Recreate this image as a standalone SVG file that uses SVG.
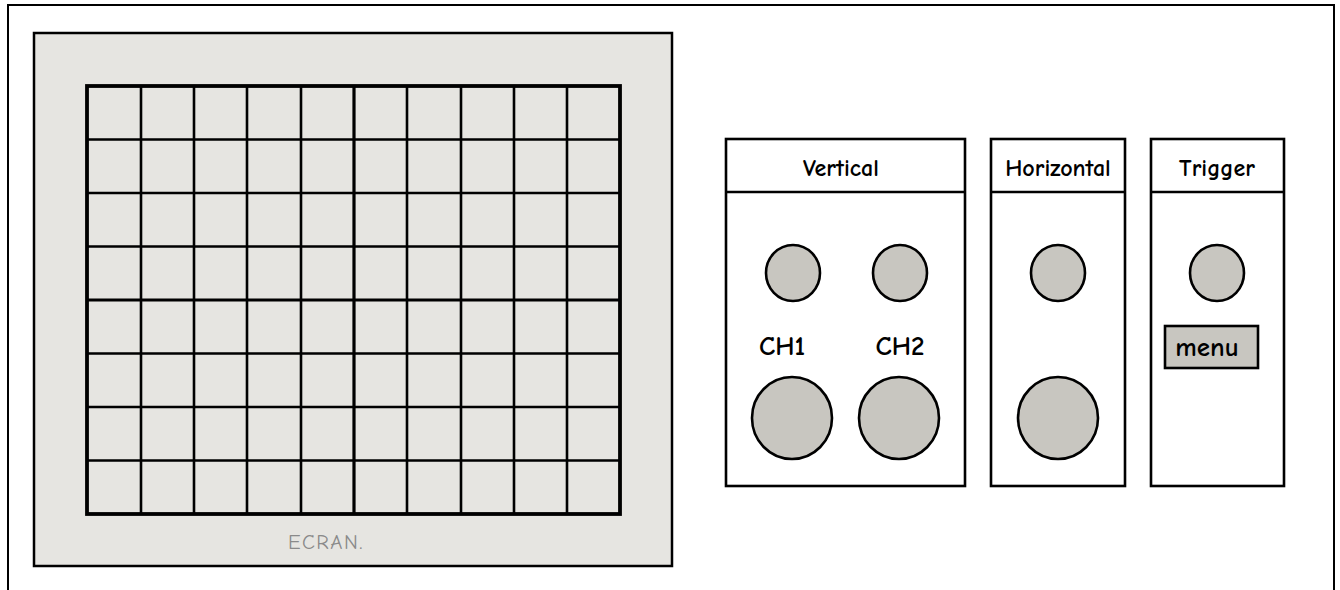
<svg xmlns="http://www.w3.org/2000/svg" width="1340" height="590" viewBox="0 0 1340 590">
<style>
.frame{fill:#ffffff;stroke:#000;stroke-width:2}
.screen{fill:#e6e5e1;stroke:#000;stroke-width:2.5}
.g{stroke:#000;stroke-width:2.6;fill:none}
.gm{stroke:#000;stroke-width:3.2;fill:none}
.gb{stroke:#000;stroke-width:3.8;fill:none}
.panel{fill:#fff;stroke:#000;stroke-width:2.6}
.knob{fill:#c8c6c0;stroke:#000;stroke-width:2.6}
.t{font-family:"Comic Neue","Noto Sans","Liberation Sans",sans-serif;font-size:24px;font-weight:bold;fill:#000;text-anchor:middle}
.h{font-family:"Comic Neue","Liberation Sans",sans-serif;font-size:27px;font-weight:bold;fill:#000;text-anchor:middle}
.ec{font-family:"Comic Neue","Liberation Sans",sans-serif;font-size:21px;fill:#8a8a8a;text-anchor:middle;letter-spacing:1.5px}
</style>
<rect x="8" y="5" width="1326" height="600" class="frame"/>
<g id="screen">
<rect x="34" y="33" width="638" height="533" class="screen"/>
<g class="g">
<path d="M141,86V514M194,86V514M247,86V514M301,86V514M407,86V514M461,86V514M514,86V514M567,86V514"/>
<path d="M87,139.5H620M87,193H620M87,246.5H620M87,353.5H620M87,407H620M87,460.5H620"/>
</g>
<path class="gm" d="M354,86V514M87,300H620"/>
<rect x="87" y="86" width="533" height="428" class="gb"/>
<text x="326" y="549" class="ec">ECRAN.</text>
</g>
<g id="vertical">
<rect x="726" y="139" width="239" height="347" class="panel"/>
<line x1="726" y1="192" x2="965" y2="192" class="panel"/>
<text x="841" y="176" class="t">Vertical</text>
<ellipse cx="793" cy="273" rx="27" ry="28" class="knob"/>
<ellipse cx="900" cy="273" rx="27" ry="28" class="knob"/>
<text x="782" y="355" class="h">CH1</text>
<text x="900" y="355" class="h">CH2</text>
<ellipse cx="792" cy="418" rx="40" ry="41" class="knob"/>
<ellipse cx="899" cy="418" rx="40" ry="41" class="knob"/>
</g>
<g id="horizontal">
<rect x="991" y="139" width="134" height="347" class="panel"/>
<line x1="991" y1="192" x2="1125" y2="192" class="panel"/>
<text x="1058" y="176" class="t">Horizontal</text>
<ellipse cx="1058" cy="273" rx="27" ry="28" class="knob"/>
<ellipse cx="1058" cy="418" rx="40" ry="41" class="knob"/>
</g>
<g id="trigger">
<rect x="1151" y="139" width="133" height="347" class="panel"/>
<line x1="1151" y1="192" x2="1284" y2="192" class="panel"/>
<text x="1217" y="176" class="t">Trigger</text>
<ellipse cx="1217" cy="273" rx="27" ry="28" class="knob"/>
<rect x="1165" y="326" width="93" height="42" class="knob"/>
<text x="1207" y="356" class="h">menu</text>
</g>
<g id="connectors"/>
</svg>
